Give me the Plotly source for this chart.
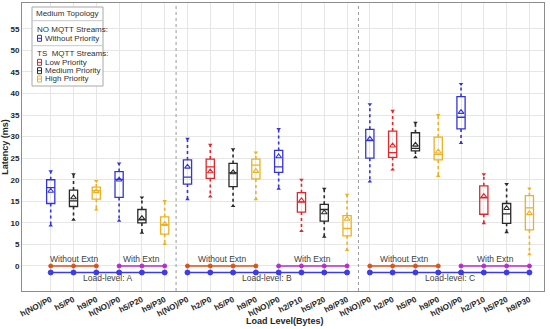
import plotly.graph_objects as go

# ---------------- data ----------------
categories = ["h(NO)/P0", "h5/P0", "h9/P0", "h(NO)/P0", "h5/P20", "h9/P30",
              "h(NO)/P0", "h2/P0", "h5/P0", "h9/P0", "h(NO)/P0", "h2/P10", "h5/P20", "h9/P30",
              "h(NO)/P0", "h2/P0", "h5/P0", "h9/P0", "h(NO)/P0", "h2/P10", "h5/P20", "h9/P30"]
priority = ["none", "med", "high", "none", "med", "high",
            "none", "low", "med", "high", "none", "low", "med", "high",
            "none", "low", "med", "high", "none", "low", "med", "high"]
whisk_lo = [9.4, 10.7, 13.1, 10.5, 7.7, 5.1,
            15.5, 16.1, 13.9, 15.5, 17.9, 8.1, 6.8, 3.7,
            19.6, 22.4, 25.2, 20.9, 28.5, 9.9, 7.8, 2.7]
q1 = [14.5, 13.8, 15.5, 15.9, 10.0, 7.4,
      19.0, 20.3, 18.4, 20.2, 21.7, 12.5, 10.4, 7.0,
      25.0, 25.2, 26.7, 24.6, 31.8, 12.0, 9.9, 8.4]
median = [18.2, 15.1, 17.5, 20.1, 10.7, 9.6,
          20.6, 23.0, 21.6, 23.4, 23.0, 14.8, 13.1, 8.7,
          29.1, 26.3, 27.3, 25.9, 34.5, 15.8, 12.1, 13.5]
q3 = [20.0, 17.6, 18.3, 21.9, 13.1, 11.4,
      24.6, 24.8, 23.8, 24.8, 26.8, 17.0, 14.3, 11.7,
      31.7, 31.3, 30.9, 29.9, 39.3, 18.6, 14.5, 16.3]
whisk_hi = [22.0, 21.3, 19.7, 23.8, 15.9, 15.1,
            29.5, 28.1, 27.1, 26.3, 31.8, 20.0, 17.9, 16.5,
            37.5, 36.0, 33.2, 35.0, 42.2, 21.3, 19.0, 18.0]
mean = [17.4, 15.9, 17.3, 20.0, 11.1, 9.7,
        23.0, 21.9, 21.7, 22.0, 25.4, 15.2, 12.4, 10.9,
        29.5, 27.9, 28.1, 26.5, 35.7, 16.2, 13.4, 12.2]

y_ticks = [0, 5, 10, 15, 20, 25, 30, 35, 40, 45, 50, 55]

# lower annotation lines: (start index, end index)
without_extn_spans = [(0, 2), (6, 9), (14, 17)]
with_extn_spans = [(3, 5), (10, 13), (18, 21)]
load_spans = [(0, 5), (6, 13), (14, 21)]
load_names = ["Load-level: A", "Load-level: B", "Load-level: C"]
separators = [5.5, 13.5]

colors = {"none": "#3434DC", "low": "#E0282C", "med": "#2A2A2A", "high": "#EDB120"}
ORANGE = "#D95319"
MAGENTA = "#B82CC8"
LINEBLUE = "#3C3CE6"

fig = go.Figure()
x_all = list(range(len(categories)))

for key in ["none", "low", "med", "high"]:
    idx = [i for i, p in enumerate(priority) if p == key]
    c = colors[key]
    fig.add_trace(go.Box(
        x=[x_all[i] for i in idx],
        q1=[q1[i] for i in idx], median=[median[i] for i in idx], q3=[q3[i] for i in idx],
        lowerfence=[q1[i] for i in idx], upperfence=[q3[i] for i in idx],
        width=0.36, line=dict(color=c, width=1.3), fillcolor="rgba(0,0,0,0)",
        boxpoints=False, showlegend=False, hoverinfo="skip"))
    wx, wy = [], []
    for i in idx:
        wx += [x_all[i], x_all[i], None, x_all[i], x_all[i], None]
        wy += [q3[i], whisk_hi[i], None, q1[i], whisk_lo[i], None]
    fig.add_trace(go.Scatter(x=wx, y=wy, mode="lines",
                             line=dict(color=c, width=1.6, dash="dot"),
                             showlegend=False, hoverinfo="skip"))
    fig.add_trace(go.Scatter(x=[x_all[i] for i in idx], y=[whisk_hi[i] for i in idx],
                             mode="markers", marker=dict(symbol="triangle-down", size=4, color=c),
                             showlegend=False, hoverinfo="skip"))
    fig.add_trace(go.Scatter(x=[x_all[i] for i in idx], y=[whisk_lo[i] for i in idx],
                             mode="markers", marker=dict(symbol="triangle-up", size=4, color=c),
                             showlegend=False, hoverinfo="skip"))
    fig.add_trace(go.Scatter(x=[x_all[i] for i in idx], y=[mean[i] for i in idx],
                             mode="markers",
                             marker=dict(symbol="triangle-up-open", size=5, color=c,
                                         line=dict(width=1.1, color=c)),
                             showlegend=False, hoverinfo="skip"))

# lower lines
def span_trace(spans, yval, color, symbol, size):
    xs, ys = [], []
    for a, b in spans:
        xs += list(range(a, b + 1)) + [None]
        ys += [yval] * (b - a + 1) + [None]
    fig.add_trace(go.Scatter(x=xs, y=ys, mode="lines+markers",
                             line=dict(color=color, width=1.4),
                             marker=dict(symbol=symbol, size=size, color=color,
                                         line=dict(width=1, color=color)),
                             showlegend=False, hoverinfo="skip"))

span_trace(without_extn_spans, 0, ORANGE, "circle", 4)
span_trace(with_extn_spans, 0, MAGENTA, "circle", 4)
span_trace(load_spans, -1.5, LINEBLUE, "circle-dot", 5)

annots = []
tfont = dict(family="Liberation Sans", size=8.5, color="#404040")
for a, b in without_extn_spans:
    annots.append(dict(x=(a + b) / 2 if a > 0 else 1, y=1.7, xref="x", yref="y",
                       text="Without Extn", showarrow=False, font=tfont))
for a, b in with_extn_spans:
    annots.append(dict(x=(a + b) / 2, y=1.7, xref="x", yref="y",
                       text="With Extn", showarrow=False, font=tfont))
for (a, b), name in zip(load_spans, load_names):
    annots.append(dict(x=(a + b) / 2, y=-2.8, xref="x", yref="y",
                       text=name, showarrow=False, font=tfont))

shapes = []
for s in separators:
    shapes.append(dict(type="line", xref="x", yref="paper", x0=s, x1=s, y0=0, y1=1,
                       line=dict(color="#9A9A9A", width=1, dash="dot")))

# legend box (pixel -> paper)
L, R, T, B = 22, 544, 3, 291
def px(x): return (x - L) / (R - L)
def py(y): return (B - y) / (B - T)

shapes.append(dict(type="rect", xref="paper", yref="paper",
                   x0=px(32), x1=px(103), y0=py(86), y1=py(7),
                   line=dict(color="#A8A8A8", width=1), fillcolor="white", layer="above"))
for yy in [20.7, 45.7]:
    shapes.append(dict(type="line", xref="paper", yref="paper", x0=px(32), x1=px(103),
                       y0=py(yy), y1=py(yy), line=dict(color="#C8C8C8", width=1), layer="above"))
lfont = dict(family="Liberation Sans", size=8, color="#303030")
annots.append(dict(x=px(67.5), y=py(14), xref="paper", yref="paper", text="Medium Topology",
                   showarrow=False, font=lfont, xanchor="center", yanchor="middle"))
annots.append(dict(x=px(35), y=py(29.5), xref="paper", yref="paper", text="NO MQTT Streams:",
                   showarrow=False, font=lfont, xanchor="left", yanchor="middle"))
annots.append(dict(x=px(35), y=py(53.5), xref="paper", yref="paper", text="TS  MQTT Streams:",
                   showarrow=False, font=lfont, xanchor="left", yanchor="middle"))
legend_items = [("Without Priority", colors["none"], 38.3),
                ("Low Priority", colors["low"], 62.3),
                ("Medium Priority", colors["med"], 70.7),
                ("High Priority", colors["high"], 79.0)]
for text, c, yy in legend_items:
    shapes.append(dict(type="rect", xref="paper", yref="paper",
                       x0=px(37.5), x1=px(41.5), y0=py(yy + 3), y1=py(yy - 3),
                       line=dict(color=c, width=1), layer="above"))
    shapes.append(dict(type="line", xref="paper", yref="paper",
                       x0=px(37.5), x1=px(41.5), y0=py(yy), y1=py(yy),
                       line=dict(color=c, width=1), layer="above"))
    annots.append(dict(x=px(42.5), y=py(yy), xref="paper", yref="paper", text=text,
                       showarrow=False, font=lfont, xanchor="left", yanchor="middle"))

annots.append(dict(x=px(285), y=py(321), xref="paper", yref="paper", text="Load Level(Bytes)",
                   showarrow=False, xanchor="center", yanchor="middle",
                   font=dict(family="Liberation Sans", size=9, color="#262626", weight="bold")))

fig.update_layout(
    width=550, height=329,
    margin=dict(l=L, r=550 - R, t=T, b=329 - B),
    paper_bgcolor="white", plot_bgcolor="white",
    annotations=annots, shapes=shapes,
    font=dict(family="Liberation Sans", color="#262626"),
)
fig.update_xaxes(range=[-1.26, 21.64], tickmode="array", tickvals=x_all, ticktext=categories,
                 tickangle=-27, tickfont=dict(size=8, weight="bold", color="#262626"),
                 showgrid=True, gridcolor="#E6E6E6", gridwidth=1,
                 showline=True, linecolor="#8C8C8C", mirror=True, linewidth=1,
                 zeroline=False, automargin=False, ticks="")
fig.update_yaxes(range=[-5.8, 61.0], tickmode="array", tickvals=y_ticks,
                 tickfont=dict(size=8, weight="bold", color="#262626"),
                 title=dict(text="Latency (ms)", font=dict(size=9, weight="bold", color="#262626"),
                            standoff=2),
                 showgrid=True, gridcolor="#E6E6E6", gridwidth=1,
                 showline=True, linecolor="#8C8C8C", mirror=True, linewidth=1,
                 zeroline=False, automargin=False, ticks="")

fig.write_html("out.html", config={"displayModeBar": False},
               post_script="document.body.style.margin='0';document.body.style.padding='0';")
